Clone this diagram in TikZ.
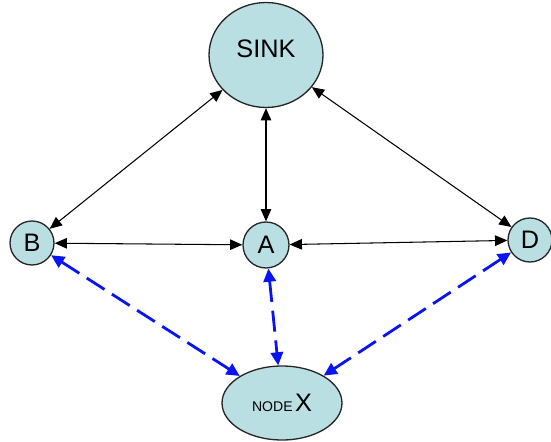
\documentclass[tikz,border=0pt]{standalone}
\usepackage{fontspec}
\setmainfont{Liberation Sans}
\usetikzlibrary{arrows.meta,shapes.geometric}
\definecolor{nodefill}{HTML}{B9DFE2}
\definecolor{linkblue}{HTML}{0A14F0}

\tikzset{
  station/.style={circle,draw=black!85,line width=0.75pt,fill=nodefill,
    minimum size=0.88cm,inner sep=0pt,font=\Large},
  bigstation/.style={ellipse,draw=black!85,line width=0.75pt,fill=nodefill,
    inner sep=0pt,font=\Large},
  link/.style={{Triangle[length=7pt,width=6pt]}-{Triangle[length=7pt,width=6pt]},
    line width=0.6pt,black},
  attack/.style={{Triangle[length=7.5pt,width=7pt]}-{Triangle[length=7.5pt,width=7pt]},
    line width=1.6pt,linkblue,dash pattern=on 12pt off 5pt}
}

\begin{document}
\begin{tikzpicture}[x=0.02cm,y=-0.02cm]
        \useasboundingbox (0,0) rectangle (551,442);
        % sink and the three sensors
        \node[bigstation,minimum width=2.28cm,minimum height=2.1cm] (sink) at (266,55) {\raisebox{7pt}{SINK}};
        \node[station] (b) at (32,243) {B};
        \node[station,minimum size=0.92cm] (a) at (266,245) {A};
        \node[station] (d) at (530,240) {D};
        \node[bigstation,minimum width=2.4cm,minimum height=1.48cm] (x) at (282,403) {{\footnotesize NODE\,}X};
        % normal links
        \draw[link] (sink) -- (b);
        \draw[link] (sink) -- (a);
        \draw[link] (sink) -- (d);
        \draw[link] (b) -- (a);
        \draw[link] (a) -- (d);
        % links through X
        \draw[attack] (b) -- (x);
        \draw[attack] (a) -- (x);
        \draw[attack] (d) -- (x);
      \end{tikzpicture}
\end{document}
